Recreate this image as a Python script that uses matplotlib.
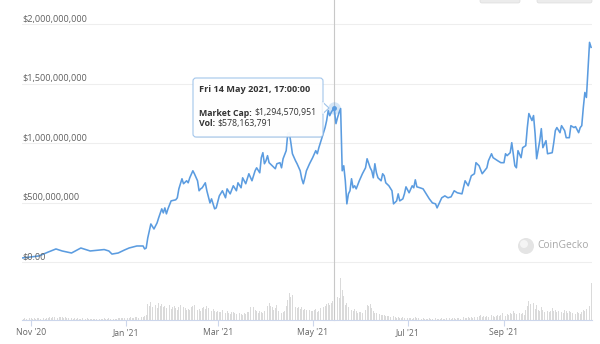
import matplotlib
matplotlib.use("Agg")
import matplotlib.pyplot as plt
import matplotlib.dates as mdates
from matplotlib.patches import FancyBboxPatch, Circle, Polygon
import pandas as pd

plt.rcParams['font.family'] = ['Open Sans', 'DejaVu Sans']

# market cap, millions of USD
cap_dates = [
    "2020-10-26", "2020-10-31", "2020-11-06", "2020-11-12", "2020-11-17", "2020-11-21", "2020-11-27",
    "2020-12-03", "2020-12-09", "2020-12-15", "2020-12-18", "2020-12-21", "2020-12-23", "2020-12-27",
    "2020-12-31", "2021-01-03", "2021-01-08", "2021-01-12", "2021-01-13", "2021-01-14", "2021-01-15",
    "2021-01-17", "2021-01-19", "2021-01-21", "2021-01-22", "2021-01-24", "2021-01-25", "2021-01-26",
    "2021-01-27", "2021-01-28", "2021-01-30", "2021-02-02", "2021-02-03", "2021-02-04", "2021-02-06",
    "2021-02-07", "2021-02-09", "2021-02-10", "2021-02-11", "2021-02-13", "2021-02-14", "2021-02-16",
    "2021-02-17", "2021-02-18", "2021-02-19", "2021-02-21", "2021-02-22", "2021-02-24", "2021-02-25",
    "2021-02-27", "2021-02-28", "2021-03-02", "2021-03-04", "2021-03-06", "2021-03-07", "2021-03-09",
    "2021-03-11", "2021-03-13", "2021-03-14", "2021-03-16", "2021-03-17", "2021-03-19", "2021-03-21",
    "2021-03-23", "2021-03-25", "2021-03-26", "2021-03-28", "2021-03-29", "2021-03-30", "2021-03-31",
    "2021-04-01", "2021-04-02", "2021-04-03", "2021-04-05", "2021-04-07", "2021-04-08", "2021-04-10",
    "2021-04-11", "2021-04-12", "2021-04-14", "2021-04-15", "2021-04-16", "2021-04-17", "2021-04-18",
    "2021-04-20", "2021-04-21", "2021-04-23", "2021-04-24", "2021-04-25", "2021-04-26", "2021-04-27",
    "2021-04-29", "2021-05-01", "2021-05-03", "2021-05-04", "2021-05-05", "2021-05-07", "2021-05-08",
    "2021-05-09", "2021-05-10", "2021-05-11", "2021-05-12", "2021-05-13", "2021-05-14 17:00", "2021-05-15",
    "2021-05-16", "2021-05-17", "2021-05-18", "2021-05-19", "2021-05-20", "2021-05-21", "2021-05-22",
    "2021-05-23", "2021-05-24", "2021-05-25", "2021-05-26", "2021-05-27", "2021-05-28", "2021-05-29",
    "2021-05-31", "2021-06-02", "2021-06-04", "2021-06-05", "2021-06-07", "2021-06-08", "2021-06-09",
    "2021-06-10", "2021-06-11", "2021-06-12", "2021-06-14", "2021-06-15", "2021-06-16", "2021-06-17",
    "2021-06-19", "2021-06-21", "2021-06-22", "2021-06-24", "2021-06-25", "2021-06-26", "2021-06-28",
    "2021-06-29", "2021-06-30", "2021-07-02", "2021-07-04", "2021-07-05", "2021-07-06", "2021-07-07",
    "2021-07-09", "2021-07-11", "2021-07-13", "2021-07-15", "2021-07-17", "2021-07-19", "2021-07-20",
    "2021-07-23", "2021-07-25", "2021-07-27", "2021-07-29", "2021-07-31", "2021-08-02", "2021-08-05",
    "2021-08-07", "2021-08-09", "2021-08-11", "2021-08-13", "2021-08-14", "2021-08-16", "2021-08-18",
    "2021-08-21", "2021-08-22", "2021-08-24", "2021-08-25", "2021-08-26", "2021-08-28", "2021-08-30",
    "2021-09-01", "2021-09-02", "2021-09-03", "2021-09-05", "2021-09-06", "2021-09-08", "2021-09-09",
    "2021-09-10", "2021-09-12", "2021-09-13", "2021-09-15", "2021-09-16", "2021-09-17", "2021-09-19",
    "2021-09-20", "2021-09-21", "2021-09-22", "2021-09-24", "2021-09-25", "2021-09-26", "2021-09-28",
    "2021-09-29", "2021-10-02", "2021-10-03", "2021-10-04", "2021-10-05", "2021-10-07", "2021-10-08",
    "2021-10-10", "2021-10-11", "2021-10-13", "2021-10-14", "2021-10-16", "2021-10-17", "2021-10-19",
    "2021-10-20", "2021-10-21", "2021-10-22", "2021-10-23", "2021-10-24", "2021-10-25", "2021-10-26",
    "2021-10-27",
]
cap_musd = [
    34, 42, 51, 84, 110, 93, 76,
    118, 93, 101, 105, 93, 67, 76,
    101, 118, 135, 135, 110, 118, 202,
    320, 278, 329, 371, 447, 413, 455,
    405, 447, 514, 523, 540, 615, 700,
    658, 683, 666, 708, 767, 742, 683,
    599, 615, 624, 666, 599, 497, 531,
    447, 455, 556, 599, 540, 615, 573,
    641, 599, 666, 624, 708, 658, 742,
    683, 767, 792, 750, 877, 919, 826,
    851, 894, 835, 809, 784, 826, 835,
    792, 868, 936, 1079, 1087, 1003, 910,
    851, 826, 767, 700, 658, 708, 767,
    826, 877, 936, 910, 961, 1045, 1087,
    1130, 1189, 1273, 1230, 1260, 1294.57, 1273,
    1163, 1214, 1256, 1290, 767, 809, 683,
    489, 573, 599, 700, 624, 641, 615,
    683, 742, 792, 868, 792, 767, 708,
    826, 750, 708, 683, 742, 725, 666,
    641, 599, 489, 514, 573, 514, 531,
    573, 632, 582, 641, 624, 691, 632,
    624, 615, 573, 531, 497, 489, 455,
    540, 556, 540, 548, 599, 582, 573,
    683, 641, 725, 742, 835, 809, 742,
    792, 851, 910, 877, 868, 851, 835,
    835, 910, 894, 919, 1003, 809, 792,
    936, 877, 961, 978, 1130, 1248, 1189,
    1231, 1079, 868, 1020, 1121, 961, 1020,
    910, 919, 1003, 1104, 1130, 1087, 1146,
    1104, 1045, 1045, 1146, 1130, 1138, 1087,
    1130, 1146, 1298, 1425, 1383, 1610, 1846,
    1804,
]

# daily volume, millions of USD, one list per month
vol_oct20 = [55, 40, 70, 45, 35, 60]
vol_nov20 = [50, 45, 60, 40, 55, 70, 45, 50, 65, 40,
             55, 60, 80, 70, 90, 85, 100, 75, 90, 80,
             95, 70, 85, 60, 75, 50, 65, 45, 55, 40]
vol_dec20 = [50, 45, 40, 55, 35, 40, 50, 45, 35, 40,
             45, 30, 40, 50, 35, 45, 40, 55, 35, 40,
             50, 45, 35, 40, 30, 45, 60, 50, 55, 70, 65]
vol_jan21 = [60, 75, 55, 80, 70, 65, 85, 90, 70, 75,
             95, 80, 110, 160, 480, 420, 550, 380, 500, 450,
             360, 520, 410, 470, 380, 430, 350, 480, 440, 330, 390]
vol_feb21 = [420, 350, 300, 380, 450, 330, 400, 360, 290, 340,
             310, 380, 420, 460, 350, 300, 330, 280, 360, 390,
             320, 410, 350, 300, 270, 330, 260, 240]
vol_mar21 = [280, 250, 230, 300, 220, 200, 260, 210, 190, 230,
             240, 200, 180, 170, 210, 190, 160, 200, 180, 230,
             250, 400, 650, 380, 300, 260, 220, 280, 240, 200, 260]
vol_apr21 = [320, 430, 500, 420, 380, 300, 350, 450, 270, 250,
             220, 240, 280, 420, 600, 820, 700, 760, 450, 380,
             350, 400, 320, 380, 300, 330, 290, 360, 300, 280]
vol_may21 = [260, 300, 320, 250, 280, 350, 620, 380, 420, 480,
             520, 450, 500, 578, 520, 430, 700, 650, 1250, 900,
             720, 450, 520, 400, 350, 300, 280, 330, 260, 220, 240]
vol_jun21 = [250, 220, 240, 300, 460, 420, 480, 350, 260, 220,
             200, 240, 180, 160, 150, 140, 130, 120, 110, 100,
             90, 120, 80, 70, 90, 60, 75, 80, 55, 70]
vol_jul21 = [60, 50, 70, 45, 55, 80, 60, 50, 45, 40,
             55, 40, 45, 35, 50, 40, 30, 45, 55, 35,
             40, 30, 50, 35, 45, 60, 40, 55, 45, 50, 70]
vol_aug21 = [40, 50, 60, 45, 55, 80, 60, 70, 90, 65,
             85, 70, 100, 120, 90, 110, 140, 100, 130, 95,
             110, 90, 140, 160, 120, 100, 130, 150, 110, 140, 200]
vol_sep21 = [160, 130, 180, 150, 200, 170, 280, 220, 190, 160,
             210, 180, 220, 160, 300, 420, 560, 480, 380, 520,
             340, 450, 300, 260, 380, 290, 250, 310, 270, 240]
vol_oct21 = [280, 350, 260, 300, 230, 270, 320, 250, 220, 300,
             260, 210, 280, 240, 200, 230, 190, 250, 220, 180,
             240, 300, 260, 330, 280, 420, 1100]

tip_time = pd.Timestamp("2021-05-14 17:00")
tip_cap = 1294570951
tip_vol = 578163791
y_ticks = [0, 500, 1000, 1500, 2000]

vol_months = [("2020-10-26", vol_oct20), ("2020-11-01", vol_nov20), ("2020-12-01", vol_dec20),
              ("2021-01-01", vol_jan21), ("2021-02-01", vol_feb21), ("2021-03-01", vol_mar21),
              ("2021-04-01", vol_apr21), ("2021-05-01", vol_may21), ("2021-06-01", vol_jun21),
              ("2021-07-01", vol_jul21), ("2021-08-01", vol_aug21), ("2021-09-01", vol_sep21),
              ("2021-10-01", vol_oct21)]
vol_dates, vol_musd = [], []
for start, vals in vol_months:
    vol_dates += list(pd.date_range(start, periods=len(vals), freq="D"))
    vol_musd += vals

W, H = 600, 344
fig = plt.figure(figsize=(6, 3.44), dpi=100)
pos = [22 / W, 1 - 320 / H, 570 / W, 300 / H]

# volume underneath
axv = fig.add_axes(pos)
axv.bar(vol_dates, vol_musd, width=0.55, color="#dadada", linewidth=0)
axv.set_ylim(0, 9000)
axv.set_yticks([])
for s in axv.spines.values():
    s.set_visible(False)

ax = fig.add_axes(pos, sharex=axv)
ax.patch.set_visible(False)
line_color = "#5b9ce0"
ax.plot(pd.to_datetime(cap_dates, format="mixed"), cap_musd, color=line_color, lw=1.15, zorder=3)
ax.set_ylim(-487, 2034)
ax.set_yticks([])
for v in y_ticks:
    ax.axhline(v, color="#eeeeee", lw=0.8, zorder=0)
    lab = "$0.00" if v == 0 else "${:,.0f}".format(v * 1e6)
    ax.annotate(lab, xy=(0, v), xycoords=("axes fraction", "data"), xytext=(0, 3.3),
                textcoords="offset points", ha="left", va="center", fontsize=6.6, color="#606060")

for k in ["top", "left", "right"]:
    ax.spines[k].set_visible(False)
ax.spines["bottom"].set_color("#ccd6eb")
ax.spines["bottom"].set_linewidth(0.8)
ax.set_xlim(pd.Timestamp("2020-10-26 04:00"), pd.Timestamp("2021-10-27 14:00"))
ax.xaxis.set_major_locator(mdates.MonthLocator(bymonth=[1, 3, 5, 7, 9, 11]))
ax.xaxis.set_major_formatter(mdates.DateFormatter("%b '%y"))
ax.tick_params(axis="x", length=4, width=0.8, color="#ccd6eb", labelsize=6.2,
               labelcolor="#666666", pad=1.5)
plt.setp(axv.get_xticklabels(), visible=False)
axv.tick_params(axis="x", length=0)

# crosshair and hovered point
ax.axvline(tip_time, ymin=0, ymax=320 / 300, color="#c8c8c8", lw=0.8, clip_on=False, zorder=2)
ax.plot([tip_time], [tip_cap / 1e6], "o", ms=9, color=line_color, alpha=0.25, mec="none", zorder=4)
ax.plot([tip_time], [tip_cap / 1e6], "o", ms=2.5, color=line_color, zorder=5)

# overlay in pixel coords for tooltip and decorations
ov = fig.add_axes([0, 0, 1, 1])
ov.set_xlim(0, W)
ov.set_ylim(H, 0)
ov.axis("off")

ov.add_patch(FancyBboxPatch((194, 79), 129, 59, boxstyle="round,pad=0,rounding_size=3",
                            fc="#000000", ec="none", alpha=0.06, zorder=5))
ov.add_patch(FancyBboxPatch((193, 78), 130, 59, boxstyle="round,pad=0,rounding_size=3",
                            fc="white", ec="#9ec3ea", lw=0.8, alpha=0.95, zorder=6))
ov.add_patch(Polygon([[322.5, 102], [329, 108], [322.5, 114]], closed=True,
                     fc="white", ec="#9ec3ea", lw=0.8, zorder=6))
ov.plot([322.6, 322.6], [102.6, 113.4], color="white", lw=1.2, zorder=7)

ov.text(199, 89, tip_time.strftime("%a %d %b %Y, %H:%M:%S"), fontsize=6.6,
        fontweight="bold", color="#333333", va="center", ha="left", zorder=8)
t1 = ov.text(199, 113, "Market Cap: ", fontsize=6.3, fontweight="bold",
             color="#333333", va="center", ha="left", zorder=8)
ov.annotate("${:,}".format(tip_cap), xy=(1, 0.5), xycoords=t1, fontsize=6.3,
            color="#333333", va="center", ha="left", zorder=8)
t2 = ov.text(199, 123.5, "Vol: ", fontsize=6.3, fontweight="bold",
             color="#333333", va="center", ha="left", zorder=8)
ov.annotate("${:,}".format(tip_vol), xy=(1, 0.5), xycoords=t2, fontsize=6.3,
            color="#333333", va="center", ha="left", zorder=8)

# watermark
ov.add_patch(Circle((526, 246), 8, fc="#e4e4e4", ec="none", zorder=1))
ov.add_patch(Circle((524, 244), 4, fc="#f4f4f4", ec="none", zorder=1))
ov.text(537, 246, "CoinGecko", fontsize=7.4, color="#a8a8a8", va="center", ha="left")

# range buttons cut off at top
ov.add_patch(FancyBboxPatch((480, -6), 40, 9, boxstyle="round,pad=0,rounding_size=2",
                            fc="#ececec", ec="#dddddd", lw=0.5))
ov.add_patch(FancyBboxPatch((537, -6), 55, 9, boxstyle="round,pad=0,rounding_size=2",
                            fc="#ececec", ec="#dddddd", lw=0.5))

fig.savefig("out.png", dpi=100)
